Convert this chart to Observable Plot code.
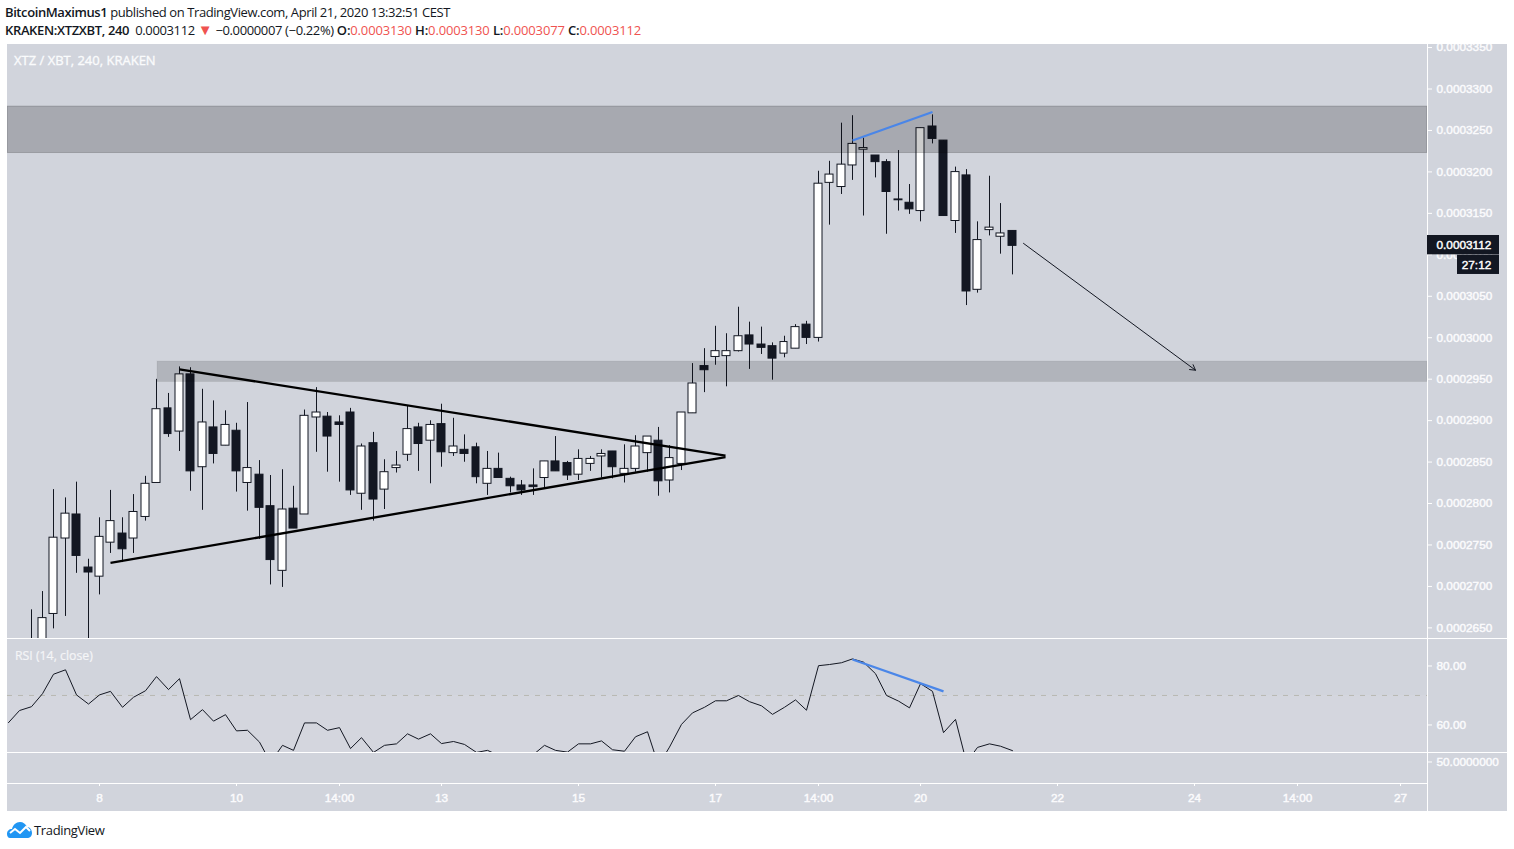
<!DOCTYPE html>
<html>
<head>
<meta charset="utf-8">
<script src="https://cdn.jsdelivr.net/npm/d3@7"></script>
<script src="https://cdn.jsdelivr.net/npm/@observablehq/plot@0.6"></script>
<style>
  html, body { margin: 0; padding: 0; background: #fff; width: 1514px; height: 849px; overflow: hidden; }
  .abs { position: absolute; white-space: nowrap; }
  #hdr1, #hdr2 { left: 5px; font: 13px "Open Sans", sans-serif; color: #131722; }
  #hdr1 { top: 3px; letter-spacing: -0.41px; } #hdr2 { top: 20.5px; letter-spacing: -0.36px; }
  #hdr1 b, #hdr2 b { font-weight: 600; }
  .r { color: #ef5350; }
  .ohlc { letter-spacing: -0.15px; }
  .tri { color: #ef5350; font-size: 15px; line-height: 13px; }
  .pane { position: absolute; left: 7px; }
  .pane svg { display: block; background: #d1d4dc; }
  .pane svg text { stroke: #fbfbfd; stroke-width: 0.45px; }
  .pane svg text.tag { stroke: #fff; stroke-width: 0.3px; }
  .lbl { font-family: "Open Sans", sans-serif; color: #fafbfc; -webkit-text-stroke: 0.35px #fafbfc; }
  #foot { left: 34px; top: 821px; font: 13px "Open Sans", sans-serif; color: #131722; letter-spacing: -0.35px; }
</style>
</head>
<body>
<div id="hdr1" class="abs"><b>BitcoinMaximus1</b> published on TradingView.com, April 21, 2020 13:32:51 CEST</div>
<div id="hdr2" class="abs"><b>KRAKEN:XTZXBT, 240</b>&nbsp; 0.0003112 <span class="tri">▼</span> −0.0000007 (−0.22%) <span class="ohlc"><b>O:</b><span class="r">0.0003130</span> <b>H:</b><span class="r">0.0003130</span> <b>L:</b><span class="r">0.0003077</span> <b>C:</b><span class="r">0.0003112</span></span></div>
<div id="p1" class="pane" style="top:44px"></div>
<div id="p2" class="pane" style="top:639px"></div>
<div id="p3" class="pane" style="top:753px"></div>
<div class="abs lbl" style="left:14px;top:51px;font-size:13px">XTZ / XBT, 240, KRAKEN</div>
<div class="abs lbl" style="left:15px;top:647px;font-size:12.3px;color:#f1f2f5;-webkit-text-stroke-width:0.2px">RSI (14, close)</div>
<svg class="abs" style="left:6px;top:821px" width="27" height="18" viewBox="0 0 27 18">
  <path d="M1 13c0-3 2-5 5-5 1-4 4-7 8-7 3 0 6 2 7 5 3 0 5 3 5 6 0 3-2 5-5 5H4c-2 0-3-2-3-4z" fill="#2196f3"/>
  <path d="M4 12l5-4 5 4 6-6 4 4" fill="none" stroke="#fff" stroke-width="2"/>
</svg>
<div id="foot" class="abs">TradingView</div>
<script>
// Prices are in units of 0.0000001 BTC.
const highs = [2673,2695,2818,2808,2827,2734,2784,2817,2784,2812,2834,2951,2934,2966,2965,2939,2925,2913,2898,2923,2853,2835,2842,2822,2914,2941,2911,2907,2916,2873,2887,2854,2864,2919,2898,2901,2921,2904,2884,2874,2864,2862,2833,2829,2843,2852,2882,2852,2866,2858,2866,2864,2872,2883,2882,2893,2871,2911,2970,2988,3015,3006,3038,3020,3014,2995,3003,3017,3021,3202,3214,3260,3269,3242,3221,3216,3227,3186,3254,3270,3239,3207,3204,3141,3196,3163,3130];
const bodyTops = [2624,2663,2760,2789,2788,2724,2761,2780,2765,2791,2825,2915,2916,2957,2957,2899,2893,2896,2889,2844,2836,2798,2794,2795,2907,2911,2906,2899,2911,2870,2874,2839,2847,2891,2893,2896,2897,2870,2866,2869,2843,2843,2831,2823,2823,2852,2852,2850,2855,2855,2861,2864,2843,2870,2882,2877,2856,2911,2946,2967,2985,2985,3003,3004,2993,2991,2996,3014,3017,3187,3198,3210,3235,3230,3221,3213,3168,3164,3254,3256,3239,3201,3197,3119,3134,3127,3130];
const bodyBottoms = [2606,2618,2668,2759,2738,2718,2713,2754,2746,2759,2785,2826,2885,2888,2840,2845,2861,2871,2840,2826,2796,2733,2720,2771,2788,2905,2882,2896,2817,2813,2806,2818,2844,2860,2873,2877,2863,2862,2861,2833,2825,2832,2822,2817,2821,2832,2840,2835,2836,2849,2858,2845,2837,2843,2862,2828,2829,2849,2910,2962,2978,2979,2985,2993,2989,2976,2982,2988,3001,3001,3188,3183,3209,3228,3213,3177,3167,3156,3154,3241,3148,3142,3057,3059,3131,3123,3112];
const lows = [2588,2618,2650,2665,2717,2624,2691,2741,2730,2741,2780,2826,2881,2864,2816,2793,2849,2871,2815,2792,2758,2703,2700,2771,2788,2863,2839,2827,2811,2793,2780,2794,2838,2852,2840,2825,2845,2858,2851,2825,2811,2832,2814,2811,2811,2820,2840,2829,2829,2840,2832,2831,2826,2839,2839,2810,2814,2841,2910,2935,2968,2942,2984,2963,2981,2950,2977,2988,2993,2996,3137,3174,3191,3148,3194,3126,3154,3150,3141,3235,3148,3127,3040,3055,3124,3102,3077];
const bullish = "1111 00 11 0 111 0 1 0 1 0 1 0 1 00 1 0 11 000 1 0 111 0 1 0 1 00 1 0000 1 00 111 0 111 0 111 0 111 000 11 0 11111 0000 1 00 1 0 111 0".replace(/ /g, "");
const rsiValues = [60.8,64.9,66.2,70.6,77.2,78.7,70.2,67.1,70.2,71.4,66.0,69.4,71.6,76.4,72.0,75.7,61.8,65.2,61.3,63.5,58.0,58.2,54.2,47.3,53.1,51.4,60.7,60.7,58.2,59.1,52.0,55.7,50.7,53.1,53.6,57.0,55.2,57.0,53.7,54.4,53.4,50.7,51.4,49.7,49.0,48.6,50.0,53.1,51.4,50.8,53.6,53.6,54.6,51.6,51.1,56.0,57.7,46.3,52.5,60.2,64.1,66.0,68.2,68.2,70.0,67.9,66.5,63.6,66.0,68.5,65.0,80.1,80.5,81.1,82.4,81.3,77.4,70.0,68.1,65.8,74.0,71.4,57.4,61.9,47.3,52.4,53.6,52.8,51.3];
const priceTicks = [2650,2700,2750,2800,2850,2900,2950,3000,3050,3100,3150,3200,3250,3300,3350];
const rsiTicks = [60,80];
const timeTickBars = [7,19,28,37,49,61,70,79,91,103,112,121];
const timeTickLabels = ["8","10","14:00","13","15","17","14:00","20","22","24","14:00","27"];
const leftEdge = -1.07, rightEdge = 123.41;
const resistanceZone = {i1:leftEdge, i2:rightEdge, top:3280, bottom:3224};
const supportZone = {i1:12.06, i2:rightEdge, top:2972.5, bottom:2947.8};
const triangleLines = [{i1:14.01,p1:2963,i2:61.87,p2:2859},{i1:8,p1:2729.5,i2:61.87,p2:2857.3}];
const priceDivergence = [{i1:73.01,p1:3239,i2:80.02,p2:3273.5}];
const targetArrow = [{i1:88,p1:3115,i2:103.06,p2:2962}];
const rsiDivergence = [{i1:73.03,v1:82.2,i2:80.96,v2:71.4}];
const lastPrice = 3112, countdown = "27:12";

const candles = highs.map((h, k) => ({i:k+1, h, t:bodyTops[k], b:bodyBottoms[k], l:lows[k], up:bullish[k]==="1"}));
const rsi = rsiValues.map((v, k) => ({i:k-1, v}));
const up = candles.filter(d => d.up), down = candles.filter(d => !d.up);
const x = {domain:[leftEdge,rightEdge], range:[0,1420], round:true, axis:null};
const base = {width:1500, marginLeft:0, marginRight:80, marginTop:0, marginBottom:0, style:{background:"#d1d4dc", fontFamily:"'Liberation Sans',Arial,sans-serif", fontSize:"11.8px"}};
const ink = "#131722", tickText = "#fbfbfd";
const fmt = d => (d/1e7).toFixed(7);
const halfBody = 0.35;

document.getElementById("p1").append(Plot.plot({
  ...base, height:594, x,
  y:{domain:[2638.4,3354.9], axis:null},
  marks:[
    Plot.ruleX(candles, {x:"i", y1:"l", y2:"h", stroke:ink, strokeWidth:1, clip:true}),
    Plot.rect(up, {x1:d=>d.i-halfBody, x2:d=>d.i+halfBody, y1:"b", y2:"t", fill:"#fff", stroke:ink, strokeWidth:1, clip:true}),
    Plot.rect(down, {x1:d=>d.i-halfBody, x2:d=>d.i+halfBody, y1:"b", y2:"t", fill:ink, stroke:ink, strokeWidth:1, clip:true}),
    Plot.rect([resistanceZone], {x1:"i1", x2:"i2", y1:"bottom", y2:"top", fill:"#000", fillOpacity:0.2, stroke:"#000", strokeOpacity:0.18}),
    Plot.rect([supportZone], {x1:"i1", x2:"i2", y1:"bottom", y2:"top", fill:"#000", fillOpacity:0.15, stroke:"#000", strokeOpacity:0.05}),
    Plot.link(triangleLines, {x1:"i1", y1:"p1", x2:"i2", y2:"p2", stroke:"#000", strokeWidth:2.3}),
    Plot.link(priceDivergence, {x1:"i1", y1:"p1", x2:"i2", y2:"p2", stroke:"#4a86e8", strokeWidth:2.2}),
    Plot.arrow(targetArrow, {x1:"i1", y1:"p1", x2:"i2", y2:"p2", bend:0, stroke:ink, strokeWidth:1, headLength:9}),
    Plot.ruleX([rightEdge], {stroke:"#fff"}),
    Plot.axisY(priceTicks, {anchor:"right", tickSize:4, tickPadding:5, tickFormat:fmt, stroke:"#fff", fill:tickText, label:null, dy:-1}),
    Plot.rect([{a:rightEdge,b:129.72,t:3124.5,d:3101.2}], {x1:"a", x2:"b", y1:"d", y2:"t", fill:ink}),
    Plot.rect([{a:126.03,b:129.72,t:3100.8,d:3077.5}], {x1:"a", x2:"b", y1:"d", y2:"t", fill:ink}),
    Plot.text([lastPrice], {x:124.2, y:d=>d, text:fmt, textAnchor:"start", fill:"#fff", dy:-0.5, className:"tag"}),
    Plot.text([countdown], {x:127.71, y:3089, text:d=>d, fill:"#fff", className:"tag"})
  ]
}));

document.getElementById("p2").append(Plot.plot({
  ...base, height:113, x,
  y:{domain:[50.67,88.98], axis:null},
  marks:[
    Plot.rect([{}], {x1:leftEdge, x2:rightEdge, y1:50.67, y2:70, fill:"#d4d6de"}),
    Plot.ruleY([70], {stroke:"#b9b9b2", strokeDasharray:"5 6", strokeWidth:1}),
    Plot.line(rsi, {x:"i", y:"v", stroke:ink, strokeWidth:1, clip:true}),
    Plot.link(rsiDivergence, {x1:"i1", y1:"v1", x2:"i2", y2:"v2", stroke:"#4a86e8", strokeWidth:2.2}),
    Plot.ruleX([rightEdge], {stroke:"#fff"}),
    Plot.axisY(rsiTicks, {anchor:"right", tickSize:4, tickPadding:5, tickFormat:d=>d.toFixed(2), stroke:"#fff", fill:tickText, label:null})
  ]
}));

document.getElementById("p3").append(Plot.plot({
  ...base, height:58, marginBottom:28, x,
  y:{domain:[47.47,51], axis:null},
  marks:[
    Plot.ruleY([47.47], {stroke:"#fff"}),
    Plot.ruleX([rightEdge], {stroke:"#fff", y1:47.47-3.3, y2:51}),
    Plot.axisY([50], {anchor:"right", tickSize:4, tickPadding:5, tickFormat:d=>d.toFixed(7), stroke:"#fff", fill:tickText, label:null}),
    Plot.axisX(timeTickBars, {anchor:"bottom", tickSize:3, tickPadding:7, tickFormat:d=>timeTickLabels[timeTickBars.indexOf(d)], stroke:"#fff", fill:tickText, label:null})
  ]
}));
</script>
</body>
</html>
